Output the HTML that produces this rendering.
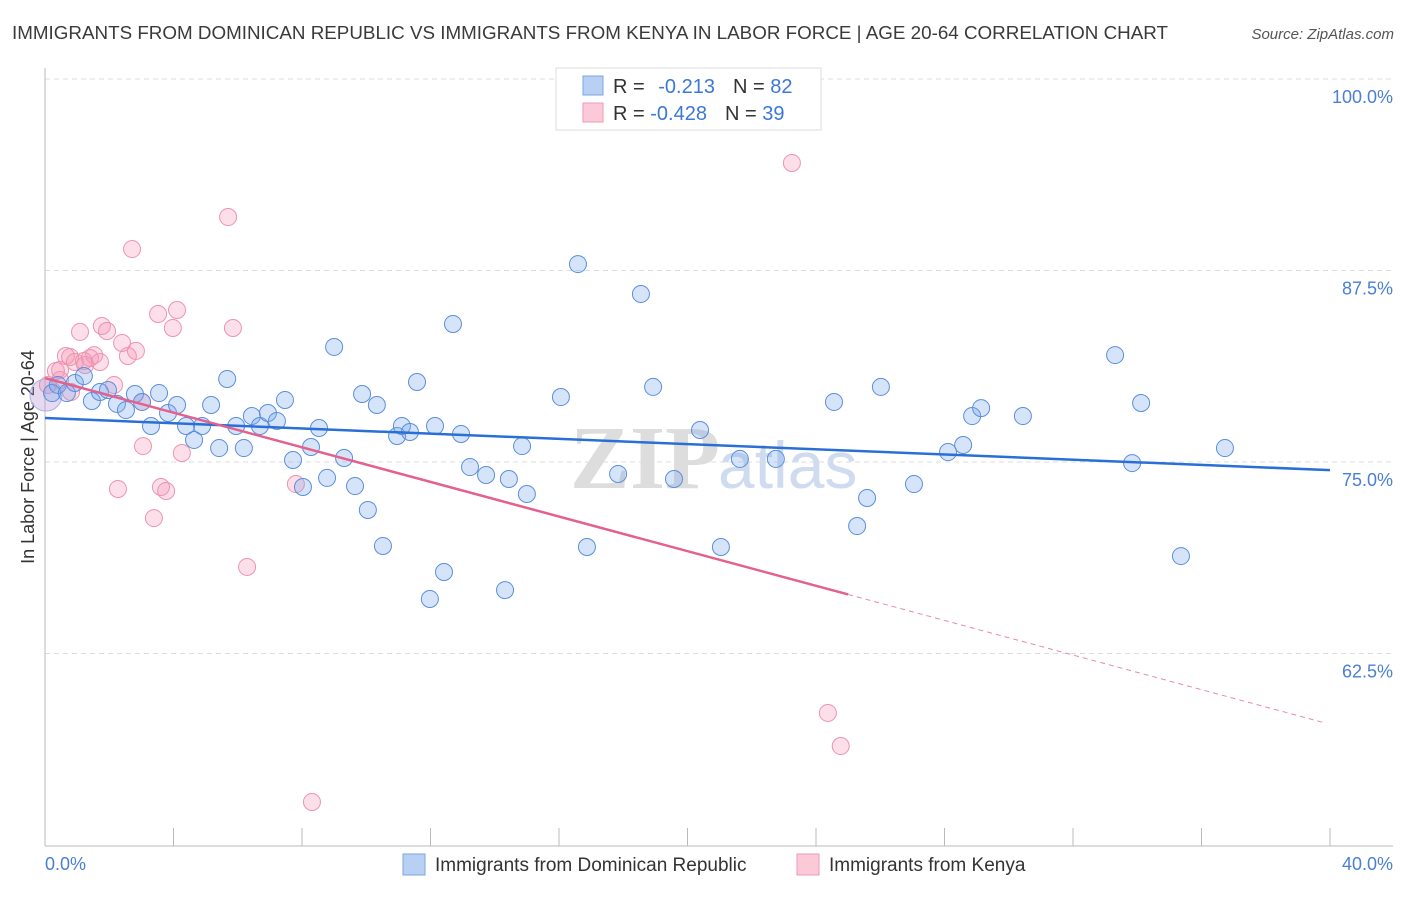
<!DOCTYPE html>
<html><head><meta charset="utf-8"><style>
body{margin:0;background:#fff;font-family:"Liberation Sans",sans-serif;}
</style></head><body>
<svg id="chart" width="1406" height="892" viewBox="0 0 1406 892" xmlns="http://www.w3.org/2000/svg">
<text x="12" y="39" font-size="18" fill="#3a3a3a" textLength="1156" lengthAdjust="spacingAndGlyphs">IMMIGRANTS FROM DOMINICAN REPUBLIC VS IMMIGRANTS FROM KENYA IN LABOR FORCE | AGE 20-64 CORRELATION CHART</text>
<text x="1394" y="39" font-size="15" fill="#555" font-style="italic" text-anchor="end">Source: ZipAtlas.com</text>
<g id="grid"></g>
<text x="720" y="488" font-size="90" font-family="Liberation Serif,serif" fill="#ddd" text-anchor="end" font-weight="bold">ZIP</text>
<text x="718" y="488" font-size="66" fill="#cfdcf0">atlas</text>
<line x1="45" y1="68" x2="45" y2="846" stroke="#bbb"/>
<line x1="45" y1="846" x2="1393" y2="846" stroke="#bbb"/>
<g id="ticks"></g>
<g id="ylabels"></g>
<text x="45" y="870" font-size="18" fill="#4a7fd4">0.0%</text>
<text x="1393" y="870" font-size="18" fill="#4a7fd4" text-anchor="end">40.0%</text>
<text transform="translate(34,457) rotate(-90)" font-size="18" fill="#333" text-anchor="middle">In Labor Force | Age 20-64</text>
<g id="pink"></g>
<g id="blue"></g>
<g id="lines"></g>
<g>
<rect x="556" y="68" width="265" height="62" fill="#fff" stroke="#ddd"/>
<rect x="583" y="76" width="20" height="19" fill="#b8d0f3" stroke="#7ea6e0"/>
<rect x="583" y="103" width="20" height="19" fill="#fbc9d8" stroke="#ee9ab5"/>
<text x="613" y="93" font-size="20" fill="#333">R = <tspan fill="#3b78d8" dx="8">-0.213</tspan><tspan dx="18">N = </tspan><tspan fill="#3b78d8">82</tspan></text>
<text x="613" y="120" font-size="20" fill="#333">R = <tspan fill="#3b78d8">-0.428</tspan><tspan dx="18">N = </tspan><tspan fill="#3b78d8">39</tspan></text>
</g>
<g>
<rect x="403" y="854" width="22" height="21" fill="#b8d0f3" stroke="#7ea6e0"/>
<text x="435" y="871" font-size="19" fill="#333">Immigrants from Dominican Republic</text>
<rect x="797" y="854" width="22" height="21" fill="#fbc9d8" stroke="#ee9ab5"/>
<text x="829" y="871" font-size="19" fill="#333">Immigrants from Kenya</text>
</g>
</svg>
<script>
const blueX=[0.22,0.40,0.68,0.93,1.21,1.46,1.71,1.96,2.24,2.52,2.80,3.02,3.30,3.55,3.83,4.11,4.39,4.64,4.89,5.17,5.42,5.67,5.95,6.19,6.44,6.69,6.94,7.22,7.47,7.72,8.03,8.28,8.53,8.78,9.00,9.31,9.65,9.87,10.05,10.33,10.52,10.96,11.11,11.36,11.58,11.98,12.14,12.42,12.70,12.95,13.23,13.73,14.32,14.44,14.85,15.00,16.06,16.59,16.87,17.84,18.55,18.93,19.58,20.39,21.04,21.63,22.75,24.56,25.28,25.59,26.02,27.05,28.11,28.58,28.86,29.14,30.44,33.31,33.84,34.12,35.36,36.73];
const blueY=[79.50,80.03,79.50,80.16,80.61,78.98,79.57,79.70,78.79,78.39,79.44,78.92,77.35,79.50,78.20,78.72,77.35,76.44,77.35,78.72,75.91,80.42,77.35,75.91,78.00,77.35,78.20,77.68,79.05,75.13,73.37,75.98,77.22,73.96,82.51,75.26,73.43,79.44,71.87,78.72,69.52,76.70,77.35,76.96,80.22,66.06,77.35,67.82,84.01,76.83,74.67,74.15,66.64,73.89,76.04,72.91,79.24,87.92,69.45,74.22,85.97,79.90,73.89,77.09,69.45,75.20,75.20,78.92,70.82,72.65,79.90,73.56,75.65,76.11,78.00,78.52,78.00,81.98,74.93,78.85,68.86,75.91];
const pinkX=[0.09,0.34,0.47,0.65,0.78,0.93,1.09,1.21,1.40,1.53,1.77,1.93,2.15,2.27,2.40,2.58,2.71,2.83,3.02,3.05,3.39,3.52,3.61,3.77,3.98,4.11,4.26,5.70,5.85,6.29,7.81,8.31,23.25,24.37,24.77,0.47,1.25,1.71,0.81];
const pinkY=[80.03,80.94,80.35,81.92,81.85,81.53,83.49,81.59,81.79,81.98,83.88,83.55,80.03,73.24,82.77,81.92,88.90,82.25,78.92,76.04,71.34,84.66,73.37,73.11,83.75,84.92,75.59,90.99,83.75,68.15,73.56,52.81,94.52,58.62,56.46,81.01,81.33,81.53,79.57];
const yTicks=[100,87.5,75,62.5];
const yTickLabels=["100.0%","87.5%","75.0%","62.5%"];
const xTicks=[0,4,8,12,16,20,24,28,32,36,40];
const blueTrend=[77.87,-0.085];
const pinkTrend=[80.48,-0.565];
const pinkSolidEnd=25.0, trendEnd=39.84;
const NS="http://www.w3.org/2000/svg";
const sx=v=>45+v*32.125, sy=v=>79+(100-v)*15.32;
function mk(t,a,p){const e=document.createElementNS(NS,t);for(const k in a)e.setAttribute(k,a[k]);p.appendChild(e);return e;}
const grid=document.getElementById('grid'),yl=document.getElementById('ylabels'),tk=document.getElementById('ticks');
yTicks.forEach((v,i)=>{
 const l=mk('line',{x1:45,x2:1393,y1:sy(v),y2:sy(v),stroke:'#ddd','stroke-dasharray':'5,4'},grid);
 
 
 const t=mk('text',{x:1393,y:sy(v)+24,'font-size':18,fill:'#4a7fd4','text-anchor':'end'},yl);
 t.textContent=yTickLabels[i];
 
 
});
xTicks.forEach(v=>{
 const l=mk('line',{x1:sx(v),x2:sx(v),y1:828,y2:846,stroke:'#bbb'},tk);
 
 
});
const pg=document.getElementById('pink'),bg=document.getElementById('blue');
pinkX.forEach((x,i)=>{
 const c=mk('circle',{cx:sx(x),cy:sy(pinkY[i]),r:8.5,fill:'rgba(244,150,180,0.3)',stroke:'#ec94b0','stroke-width':1},pg);
 
 
});
const big=mk('circle',{cx:sx(0.03),cy:sy(79.37),r:16,fill:'rgba(180,150,210,0.35)',stroke:'#a9b3e6','stroke-width':1},bg);


blueX.forEach((x,i)=>{
 const c=mk('circle',{cx:sx(x),cy:sy(blueY[i]),r:8.5,fill:'rgba(120,165,235,0.3)',stroke:'#5a8fdc','stroke-width':1},bg);
 
 
});
const lg=document.getElementById('lines');
const bl=mk('line',{x1:sx(0),y1:sy(blueTrend[0]),x2:sx(40),y2:sy(blueTrend[0]+blueTrend[1]*40),stroke:'#2a6fd6','stroke-width':2.5},lg);


const pl=mk('line',{x1:sx(0),y1:sy(pinkTrend[0]),x2:sx(pinkSolidEnd),y2:sy(pinkTrend[0]+pinkTrend[1]*pinkSolidEnd),stroke:'#e4608e','stroke-width':2.5},lg);


const pd=mk('line',{x1:sx(pinkSolidEnd),y1:sy(pinkTrend[0]+pinkTrend[1]*pinkSolidEnd),x2:sx(trendEnd),y2:sy(pinkTrend[0]+pinkTrend[1]*trendEnd),stroke:'#e88aa8','stroke-width':1,'stroke-dasharray':'5,4'},lg);


</script>
</body></html>
